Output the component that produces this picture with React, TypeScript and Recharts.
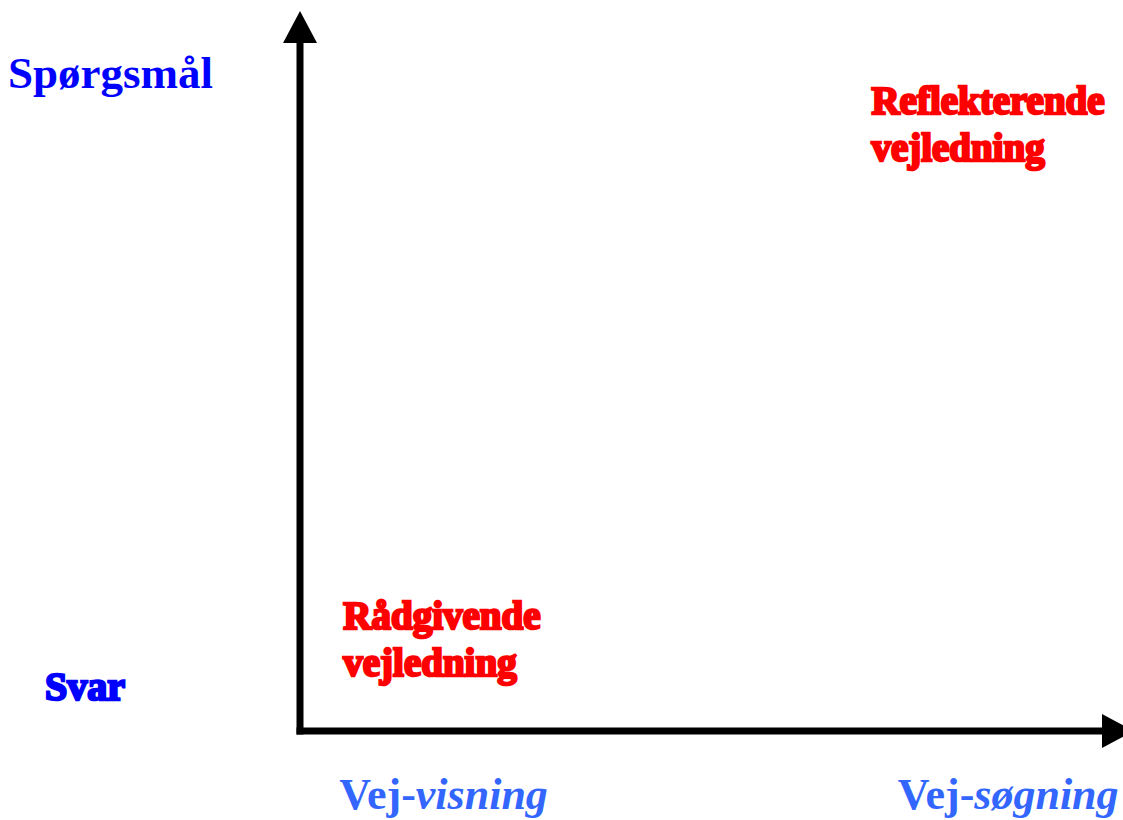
import { ComposedChart, XAxis, YAxis, Scatter, ReferenceLine } from 'recharts';

// axis end labels
const xTickValues = [0.179, 0.883];
const xTickLabels = ['Vej-visning', 'Vej-søgning'];
const yTickValues = [0.064, 0.956];
const yTickLabels = ['Svar', 'Spørgsmål'];

// quadrant labels (x, y in data units = start of first line)
const quadrantX = [0.054, 0.7125];
const quadrantY = [0.148, 0.897];
const quadrantLines = [
  ['Rådgivende', 'vejledning'],
  ['Reflekterende', 'vejledning'],
];

const quadrantData = quadrantX.map((x, i) => ({ x, y: quadrantY[i], lines: quadrantLines[i] }));

const FONT = '"Liberation Serif", "Times New Roman", serif';
const RED = '#ff0000';
const BLUE = '#0000ff';
const LIGHT_BLUE = '#3366ff';

const yTickStyle = [
  { left: 45, size: 40, heavy: true },
  { left: 8, size: 45, heavy: false },
];

const XTick = (props: any) => {
  const { x, y, payload } = props;
  const i = xTickValues.indexOf(payload.value);
  const [plain, rest] = xTickLabels[i].split('-');
  return (
    <text x={x} y={y + 78} textAnchor="middle" fontFamily={FONT} fontSize={44} fontWeight="bold" fill={LIGHT_BLUE}>
      <tspan>{plain}-</tspan>
      <tspan fontStyle="italic">{rest}</tspan>
    </text>
  );
};

const YTick = (props: any) => {
  const { y, payload } = props;
  const i = yTickValues.indexOf(payload.value);
  const s = yTickStyle[i];
  return (
    <text
      x={s.left}
      y={y + s.size * 0.33}
      fontFamily={FONT}
      fontSize={s.size}
      fontWeight="bold"
      fill={BLUE}
      stroke={s.heavy ? BLUE : 'none'}
      strokeWidth={s.heavy ? 2.5 : 0}
    >
      {yTickLabels[i]}
    </text>
  );
};

const QuadrantLabel = (props: any) => {
  const { cx, cy, payload } = props;
  return (
    <text x={cx} y={cy} fontFamily={FONT} fontSize={39} fontWeight="bold" fill={RED} stroke={RED} strokeWidth={2.5}>
      {payload.lines.map((l: string, k: number) => (
        <tspan key={k} x={cx} dy={k === 0 ? 0 : 47}>
          {l}
        </tspan>
      ))}
    </text>
  );
};

// axis line with an arrow head at its far end
const Arrow = (props: any) => {
  const { x1, y1, x2, y2 } = props;
  const len = 32;
  const half = 17;
  const dx = x2 - x1;
  const dy = y2 - y1;
  const d = Math.sqrt(dx * dx + dy * dy) || 1;
  const ux = dx / d;
  const uy = dy / d;
  const tipX = x2 + ux * len;
  const tipY = y2 + uy * len;
  const pts = [
    [tipX, tipY],
    [x2 - uy * half, y2 + ux * half],
    [x2 + uy * half, y2 - ux * half],
  ]
    .map((p) => p.join(','))
    .join(' ');
  return (
    <g>
      <line x1={x1} y1={y1} x2={x2} y2={y2} stroke="#000" strokeWidth={7} strokeLinecap="square" />
      <polygon points={pts} fill="#000" />
    </g>
  );
};

export default function App() {
  return (
    <div style={{ position: 'absolute', left: 0, top: 0, background: '#fff' }}>
      <ComposedChart width={1123} height={820} margin={{ top: 43, right: 21, bottom: 0, left: 0 }} data={quadrantData}>
        <XAxis
          type="number"
          dataKey="x"
          domain={[0, 1]}
          ticks={xTickValues}
          height={89}
          axisLine={false}
          tickLine={false}
          tickSize={0}
          tickMargin={0}
          tick={<XTick />}
          interval={0}
        />
        <YAxis
          type="number"
          dataKey="y"
          domain={[0, 1]}
          ticks={yTickValues}
          width={300}
          axisLine={false}
          tickLine={false}
          tickSize={0}
          tickMargin={0}
          tick={<YTick />}
          interval={0}
        />
        <ReferenceLine segment={[{ x: 0, y: 0 }, { x: 0, y: 1 }]} shape={<Arrow />} ifOverflow="visible" />
        <ReferenceLine segment={[{ x: 0, y: 0 }, { x: 1, y: 0 }]} shape={<Arrow />} ifOverflow="visible" />
        <Scatter data={quadrantData} dataKey="y" shape={<QuadrantLabel />} isAnimationActive={false} />
      </ComposedChart>
    </div>
  );
}
